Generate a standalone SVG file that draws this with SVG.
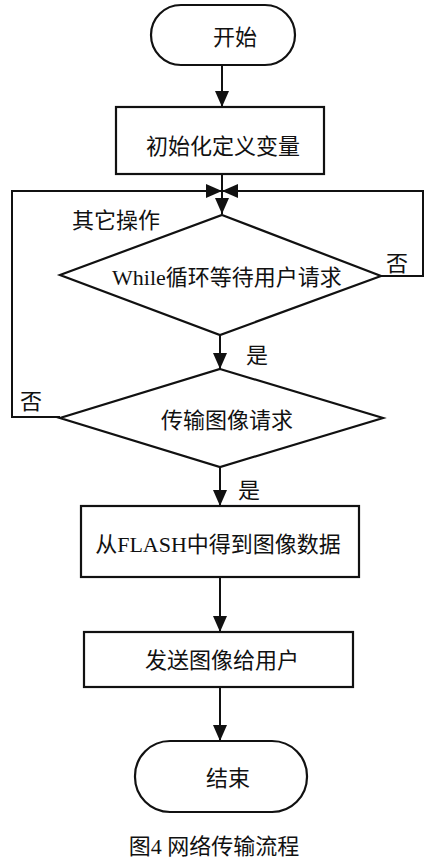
<svg xmlns="http://www.w3.org/2000/svg" width="430" height="867" viewBox="0 0 430 867">
<defs>
<style>
.s{fill:#fff;stroke:#111;stroke-width:2.2}
.c{fill:none;stroke:#111;stroke-width:2}
.t{font-family:"Liberation Serif","Noto Sans CJK SC",serif;fill:#111;font-size:22px}
.m{text-anchor:middle}
</style>
<marker id="a" markerUnits="userSpaceOnUse" markerWidth="17" markerHeight="14" refX="16" refY="7" orient="auto" viewBox="0 0 17 14">
<path d="M0,0 L16,7 L0,14 z" fill="#111"/>
</marker>
</defs>
<rect width="430" height="867" fill="#fff"/>
<g id="connectors">
<line class="c" x1="222" y1="65" x2="222" y2="107" marker-end="url(#a)"/>
<line class="c" x1="222" y1="174" x2="222" y2="214" marker-end="url(#a)"/>
<polyline class="c" points="60,417 12,417 12,191 222,191" marker-end="url(#a)"/>
<polyline class="c" points="381,276 423,276 423,191 222,191" marker-end="url(#a)"/>
<line class="c" x1="220" y1="335" x2="220" y2="369" marker-end="url(#a)"/>
<line class="c" x1="220" y1="467" x2="220" y2="506" marker-end="url(#a)"/>
<line class="c" x1="220" y1="577" x2="220" y2="632" marker-end="url(#a)"/>
<line class="c" x1="220" y1="687" x2="220" y2="741" marker-end="url(#a)"/>
</g>
<g id="start">
<rect class="s" x="151" y="5" width="144" height="60" rx="30"/>
<text class="t m" x="235" y="45" font-size="26">开始</text>
</g>
<g id="init">
<rect class="s" x="116" y="107" width="208" height="67"/>
<text class="t m" x="223" y="154" font-size="24.5">初始化定义变量</text>
</g>
<g id="while">
<polygon class="s" points="222,215 381,276 220,335 60,275"/>
<text class="t m" x="227" y="285" font-size="24">While循环等待用户请求</text>
</g>
<g id="req">
<polygon class="s" points="220,369 383,418 220,467 60,418"/>
<text class="t m" x="227" y="428" font-size="25">传输图像请求</text>
</g>
<g id="flash">
<rect class="s" x="81" y="506" width="278" height="71"/>
<text class="t m" x="218" y="552" font-size="24.5">从FLASH中得到图像数据</text>
</g>
<g id="send">
<rect class="s" x="84" y="632" width="269" height="55"/>
<text class="t m" x="222" y="668" font-size="24.5">发送图像给用户</text>
</g>
<g id="end">
<rect class="s" x="135" y="741" width="172" height="71" rx="35"/>
<text class="t m" x="228" y="786" font-size="25">结束</text>
</g>
<g id="labels">
<text class="t" x="72" y="228" font-size="26">其它操作</text>
<text class="t" x="386" y="271" font-size="23">否</text>
<text class="t" x="20" y="409" font-size="23">否</text>
<text class="t" x="246" y="363" font-size="23">是</text>
<text class="t" x="238" y="498" font-size="23">是</text>
<text class="t m" x="214" y="854" font-size="22">图4 网络传输流程</text>
</g>
</svg>
